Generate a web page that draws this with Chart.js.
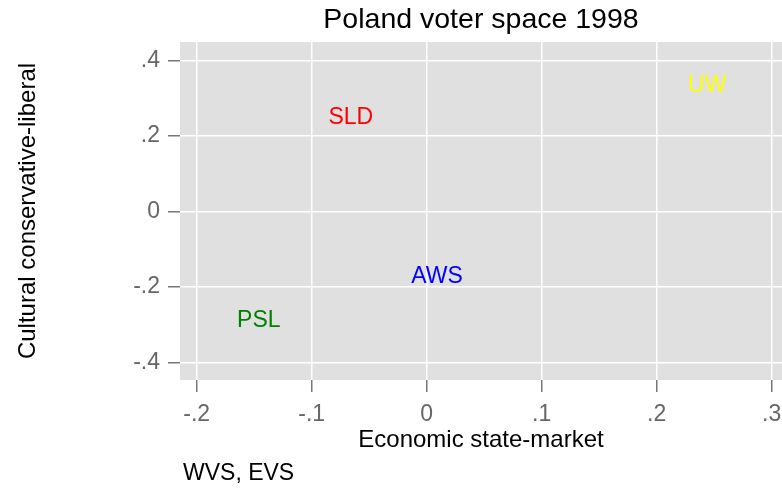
<!DOCTYPE html>
<html>
<head>
<meta charset="utf-8">
<title>Poland voter space 1998</title>
<script src="https://cdn.jsdelivr.net/npm/chart.js@4/dist/chart.umd.min.js"></script>
<style>
  body { margin: 0; background: #fff; }
  #wrap { width: 782px; height: 490px; }
</style>
</head>
<body>
<div id="wrap"><canvas id="myChart" width="782" height="490"></canvas></div>
<script>

// party positions (economic x, cultural y)
var parties = ['UW', 'SLD', 'AWS', 'PSL'];
var economic = [0.244, -0.066, 0.009, -0.146];
var cultural = [0.338, 0.253, -0.168, -0.284];
var partyColors = ['#ffff00', '#ff0000', '#0000ff', '#008000'];

var xTicks = [-0.2, -0.1, 0, 0.1, 0.2, 0.3];
var yTicks = [-0.4, -0.2, 0, 0.2, 0.4];

var FONT = "'Liberation Sans', Arial, Helvetica, sans-serif";

function fmt(v) {

  var s = String(Math.round(v * 10) / 10);
  return s.replace('0.', '.');
}

// gray plot region behind the grid
var plotBg = {
  id: 'plotBg',
  beforeDraw: function(chart) {
    var a = chart.chartArea;
    var ctx = chart.ctx;
    ctx.save();
    ctx.fillStyle = '#e0e0e0';
    ctx.fillRect(a.left, a.top, a.right - a.left, a.bottom - a.top);
    ctx.restore();
  }
};

// party names drawn at their points, plus title and note
var textLayer = {
  id: 'textLayer',
  afterDatasetsDraw: function(chart) {
    var ctx = chart.ctx;
    var xs = chart.scales.x;
    var ys = chart.scales.y;
    var a = chart.chartArea;

    ctx.save();
    ctx.textAlign = 'center';
    ctx.textBaseline = 'middle';
    ctx.font = '23px ' + FONT;
    for (var i = 0; i < parties.length; i++) {
      ctx.fillStyle = partyColors[i];
      // +2 so the capitals sit centred on the point
      ctx.fillText(parties[i], xs.getPixelForValue(economic[i]), ys.getPixelForValue(cultural[i]) + 2);
    }

    ctx.fillStyle = '#000';
    ctx.font = '28.5px ' + FONT;
    ctx.fillText('Poland voter space 1998', (a.left + a.right) / 2, 20);

    ctx.textAlign = 'left';
    ctx.font = '23px ' + FONT;
    ctx.fillText('WVS, EVS', a.left + 3, 474);
    ctx.restore();
  }
};

function stampChart() {

  var points = [];
  for (var i = 0; i < parties.length; i++) {
    points.push({ x: economic[i], y: cultural[i] });
  }

  var ctx = document.getElementById('myChart').getContext('2d');
  var chart = new Chart(ctx, {
    type: 'scatter',
    data: {
      datasets: [{
        label: 'parties',
        data: points,
        pointRadius: 0
      }]
    },
    options: {
      responsive: false,
      animation: false,
      layout: { padding: { top: 42, right: 0, bottom: 35, left: 0 } },
      plugins: {
        legend: { display: false },
        tooltip: { enabled: false }
      },
      scales: {
        x: {
          type: 'linear',
          min: -0.2145,
          max: 0.309,
          afterBuildTicks: function(scale) {
            scale.ticks = xTicks.map(function(v) { return { value: v }; });
          },
          afterFit: function(scale) {
            scale.height = 75;
            // plot runs to the right edge, the last label may clip
            scale.paddingRight = 0;
            scale.paddingLeft = 0;
          },
          border: { display: false },
          grid: { color: '#ffffff', lineWidth: 1.5, tickColor: '#777777', tickWidth: 1.5, tickLength: 12 },
          ticks: {
            color: '#666666',
            font: { family: FONT, size: 23 },
            padding: 9,
            maxRotation: 0,
            callback: function(v) { return fmt(v); }
          },
          title: {
            display: true,
            text: 'Economic state-market',
            color: '#000',
            font: { family: FONT, size: 24 },
            padding: { top: 0, bottom: 0 }
          }
        },
        y: {
          type: 'linear',
          min: -0.446,
          max: 0.449,
          afterBuildTicks: function(scale) {
            scale.ticks = yTicks.map(function(v) { return { value: v }; });
          },
          afterFit: function(scale) { scale.width = 180; },
          border: { display: false },
          grid: { color: '#ffffff', lineWidth: 1.5, tickColor: '#777777', tickWidth: 1.5, tickLength: 12 },
          ticks: {
            color: '#666666',
            font: { family: FONT, size: 23 },
            padding: 8,
            callback: function(v) { return fmt(v); }
          },
          title: {
            display: true,
            text: 'Cultural conservative-liberal',
            color: '#000',
            font: { family: FONT, size: 24 },
            padding: { top: 14, bottom: 0 }
          }
        }
      }
    },
    plugins: [plotBg, textLayer]
  });
}

function init() {

  stampChart();
}

init();
</script>
</body>
</html>
